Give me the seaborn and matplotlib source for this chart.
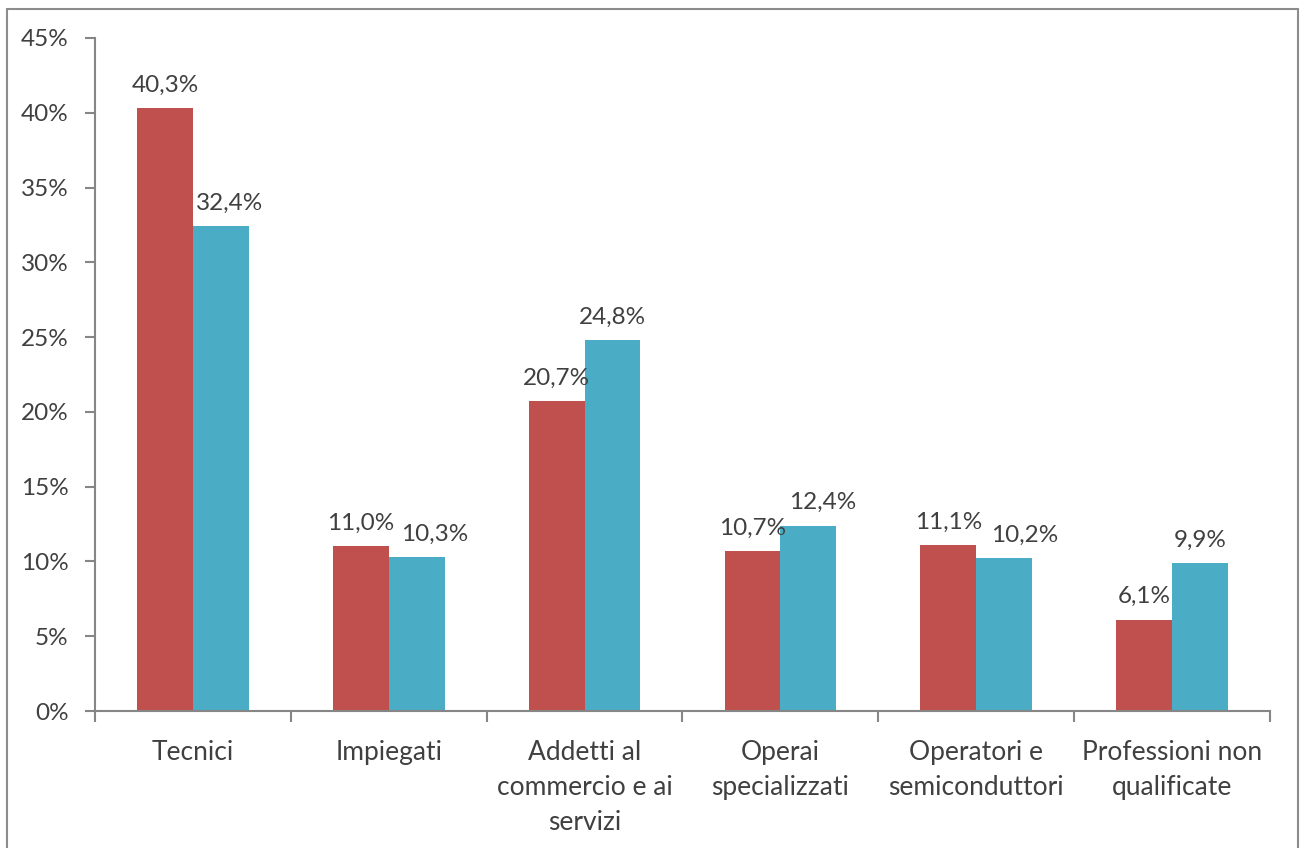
import matplotlib
matplotlib.use("Agg")
import matplotlib.pyplot as plt
from matplotlib.lines import Line2D
import seaborn as sns
import pandas as pd

categories = ["Tecnici", "Impiegati", "Addetti al\ncommercio e ai\nservizi",
              "Operai\nspecializzati", "Operatori e\nsemiconduttori",
              "Professioni non\nqualificate"]
series_names = ["Serie 1", "Serie 2"]
values_1 = [40.3, 11.0, 20.7, 10.7, 11.1, 6.1]
values_2 = [32.4, 10.3, 24.8, 12.4, 10.2, 9.9]
y_ticks = [0, 5, 10, 15, 20, 25, 30, 35, 40, 45]
colors = ["#C0504D", "#4BACC6"]

df = pd.DataFrame({
    "cat": categories * 2,
    "serie": [series_names[0]] * 6 + [series_names[1]] * 6,
    "val": values_1 + values_2,
})

sns.set_theme(style="white")
plt.rcParams["font.family"] = ["Lato", "DejaVu Sans"]
text_color = "#404040"
axis_color = "#868686"
fs_num = 17.5
fs_cat = 19

fig = plt.figure(figsize=(13.01, 8.48), dpi=100)
ax = fig.add_axes([95 / 1301, 1 - 711 / 848, (1270 - 95) / 1301, (711 - 38) / 848])

sns.barplot(data=df, x="cat", y="val", hue="serie", palette=colors,
            width=0.57, ax=ax, legend=False, saturation=1, linewidth=0)

# horizontal nudges (points) for labels of the second series, as in the original
nudge_2 = [6, 13, 0, 10, 15, 0]
for k, cont in enumerate(ax.containers):
    anns = ax.bar_label(cont, labels=[f"{v:.1f}%".replace(".", ",") for v in cont.datavalues],
                        padding=9, fontsize=fs_num, color=text_color)
    if k == 1:
        for a, dx in zip(anns, nudge_2):
            a.xyann = (dx, a.xyann[1])

ax.set_ylim(0, 45)
ax.set_xlim(-0.5, 5.5)
ax.set_yticks(y_ticks)
ax.set_yticklabels([f"{t}%" for t in y_ticks], fontsize=fs_num, color=text_color)
ax.set_xticks(range(6))
ax.set_xticklabels(categories, fontsize=fs_cat, color=text_color, linespacing=1.5)
ax.set_xlabel("")
ax.set_ylabel("")

for s in ["top", "right"]:
    ax.spines[s].set_visible(False)
for s in ["left", "bottom"]:
    ax.spines[s].set_color(axis_color)
    ax.spines[s].set_linewidth(1.5)

ax.tick_params(axis="y", which="major", direction="out", length=7, width=1.5,
               color=axis_color, left=True, pad=12)
ax.tick_params(axis="x", which="major", length=0, pad=21)
ax.set_xticks([i - 0.5 for i in range(7)], minor=True)
ax.tick_params(axis="x", which="minor", direction="out", length=8, width=1.5,
               color=axis_color, bottom=True)

# outer frame
fc = "#8c8c8c"
fig.add_artist(Line2D([7 / 1301, 7 / 1301], [-0.01, 1 - 9 / 848], color=fc, lw=1.5, transform=fig.transFigure))
fig.add_artist(Line2D([7 / 1301, 1298 / 1301], [1 - 9 / 848, 1 - 9 / 848], color=fc, lw=1.5, transform=fig.transFigure))
fig.add_artist(Line2D([1298 / 1301, 1298 / 1301], [-0.01, 1 - 9 / 848], color=fc, lw=1.5, transform=fig.transFigure))

fig.savefig("out.png", dpi=100)
